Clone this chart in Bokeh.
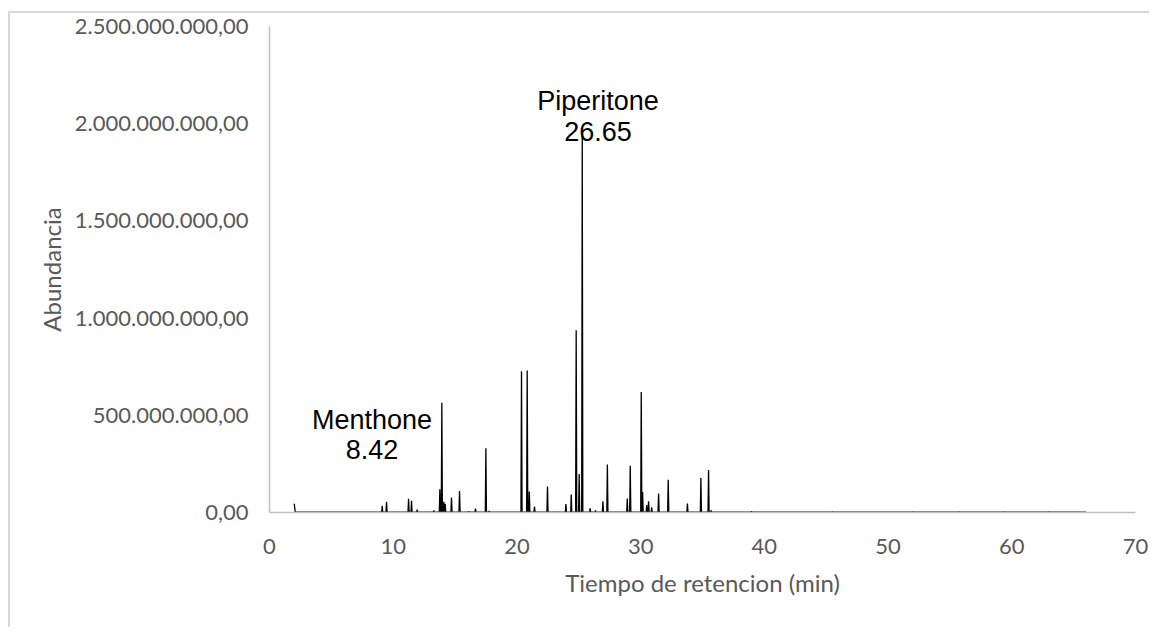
from bokeh.plotting import figure
from bokeh.models import Range1d, FixedTicker
from bokeh.core.properties import value
from bokeh.embed import file_html
from bokeh.resources import INLINE

# ---- data ----
trace_start = 2.0          # min
trace_end = 66.0           # min
start_abund = 45e6
peak_rt = [9.11, 9.46, 11.24, 11.48, 11.94, 13.28, 13.77, 13.93, 14.09, 14.20,
           14.71, 15.36, 16.10, 16.65, 17.49, 17.76, 20.37, 20.83, 21.00, 21.42,
           22.47, 23.96, 24.39, 24.79, 25.03, 25.28, 25.92, 26.35, 26.95, 27.31,
           28.92, 29.16, 30.05, 30.16, 30.49, 30.64, 30.89, 31.45, 32.23, 33.78,
           34.87, 35.49, 35.70, 38.96, 45.50, 52.00, 55.80, 59.40, 63.00]
peak_abund = [35e6, 55e6, 70e6, 60e6, 15e6, 10e6, 120e6, 565e6, 55e6, 45e6,
              77e6, 110e6, 5e6, 20e6, 330e6, 8e6, 727e6, 730e6, 108e6, 30e6,
              134e6, 43e6, 93e6, 938e6, 198e6, 1950e6, 22e6, 10e6, 58e6, 247e6,
              72e6, 240e6, 620e6, 106e6, 38e6, 58e6, 27e6, 97e6, 169e6, 46e6,
              178e6, 219e6, 10e6, 6e6, 3e6, 3e6, 3e6, 3e6, 3e6]
baseline = 2e6

y_ticks = [0, 500e6, 1000e6, 1500e6, 2000e6, 2500e6]
y_tick_labels = ["0,00", "500.000.000,00", "1.000.000.000,00",
                 "1.500.000.000,00", "2.000.000.000,00", "2.500.000.000,00"]
x_ticks = [0, 10, 20, 30, 40, 50, 60, 70]

ann_names = ["Piperitone", "Menthone"]
ann_values = ["26.65", "8.42"]
ann_x = [26.55, 8.29]
ann_name_y = [2.118e9, 476e6]
ann_value_y = [1.960e9, 322e6]

# ---- build the trace (narrow spikes on a flat baseline) ----
half_w = 0.045
xs = [trace_start, trace_start + 0.08]
ys = [start_abund, baseline]
for t, h in zip(peak_rt, peak_abund):
    xs += [t - half_w, t, t + half_w]
    ys += [baseline, h, baseline]
xs.append(trace_end)
ys.append(baseline)

FONT = "Lato"
GREY = "#595959"

p = figure(width=1141, height=616, output_backend="svg", toolbar_location=None,
           x_range=Range1d(0, 70), y_range=Range1d(0, 2.5e9),
           min_border_left=259, min_border_right=16,
           min_border_top=13, min_border_bottom=117)
p.styles = {"margin-top": "11px", "margin-left": "8px",
            "border-top": "2px solid #d9d9d9",
            "border-left": "2px solid #d9d9d9"}
p.outline_line_color = None
p.xgrid.visible = False
p.ygrid.visible = False

p.line(xs, ys, line_color="black", line_width=1.3)

p.text(x=ann_x, y=ann_name_y, text=ann_names, text_align="center",
       text_baseline="alphabetic", text_font=value("Liberation Sans"),
       text_font_size="27px", text_color="black")
p.text(x=ann_x, y=ann_value_y, text=ann_values, text_align="center",
       text_baseline="alphabetic", text_font=value("Liberation Sans"),
       text_font_size="27px", text_color="black")

for ax in (p.xaxis[0], p.yaxis[0]):
    ax.axis_line_color = "#bfbfbf"
    ax.axis_line_width = 1.5
    ax.major_tick_line_color = None
    ax.minor_tick_line_color = None
    ax.major_label_text_font = FONT
    ax.major_label_text_font_size = "22px"
    ax.major_label_text_color = GREY
    ax.axis_label_text_font = FONT
    ax.axis_label_text_font_size = "24px"
    ax.axis_label_text_color = GREY
    ax.axis_label_text_font_style = "normal"

p.xaxis.ticker = FixedTicker(ticks=x_ticks)
p.xaxis.major_label_standoff = 20
p.xaxis.axis_label = "Tiempo de retencion (min)"
p.xaxis.axis_label_standoff = 11

p.yaxis.ticker = FixedTicker(ticks=y_ticks)
p.yaxis.major_label_overrides = {float(t): s for t, s in zip(y_ticks, y_tick_labels)}
p.yaxis.major_label_standoff = 15
p.yaxis.axis_label = "Abundancia"
p.yaxis.axis_label_standoff = 6

open("out.html", "w").write(file_html(p, INLINE))
